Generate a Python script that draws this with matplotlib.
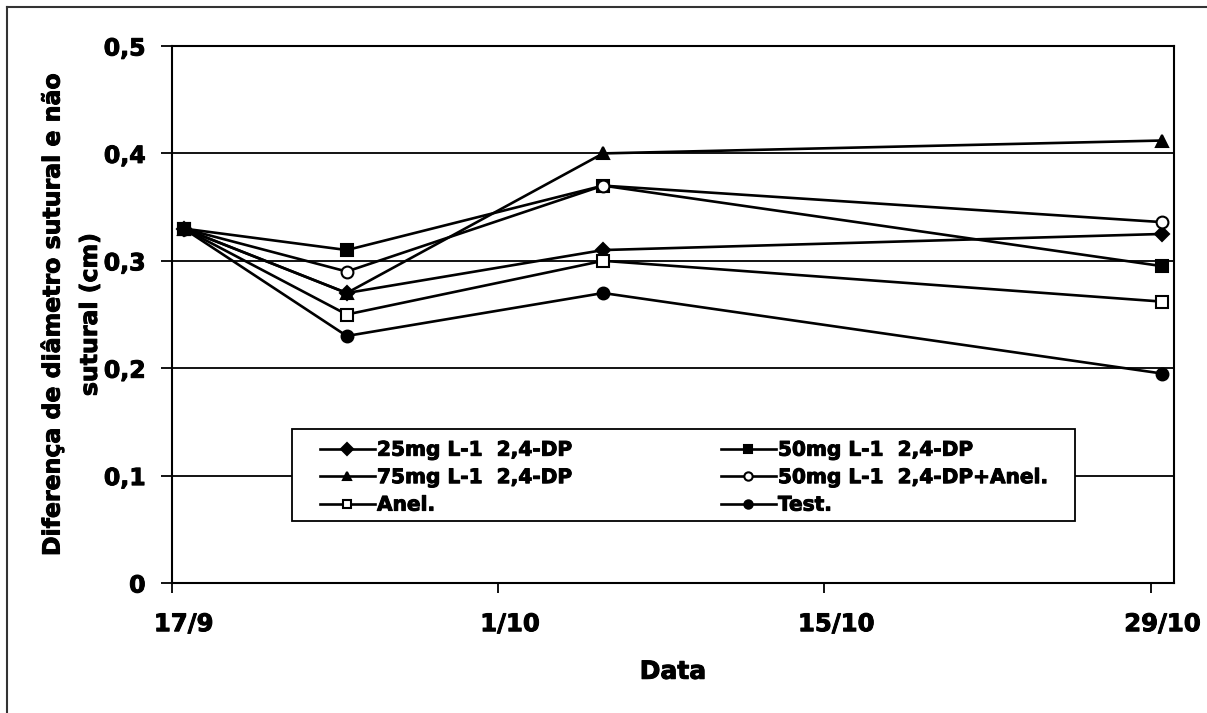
import matplotlib.pyplot as plt
import matplotlib.patheffects as pe
import numpy as np
from matplotlib.lines import Line2D
from matplotlib.patches import Rectangle

# dias contados a partir de 17/9 (pontos: 17/9, 24/9, 5/10, 29/10)
dias = [0, 7, 18, 42]
tick_dias = [0, 14, 28, 42]
tick_labels = ['17/9', '1/10', '15/10', '29/10']

dp25 = [0.33, 0.27, 0.31, 0.325]
dp50 = [0.33, 0.31, 0.37, 0.295]
dp75 = [0.33, 0.27, 0.40, 0.412]
dp50_anel = [0.33, 0.29, 0.37, 0.336]
anel = [0.33, 0.25, 0.30, 0.262]
test = [0.33, 0.23, 0.27, 0.195]

series = [
    (dp25, 'D', 'black', '25mg L-1  2,4-DP'),
    (dp75, '^', 'black', '75mg L-1  2,4-DP'),
    (anel, 's', 'white', 'Anel.'),
    (dp50, 's', 'black', '50mg L-1  2,4-DP'),
    (dp50_anel, 'o', 'white', '50mg L-1  2,4-DP+Anel.'),
    (test, 'o', 'black', 'Test.'),
]

plt.rcParams['font.family'] = ['DejaVu Sans']
plt.rcParams['font.weight'] = 'bold'

# texto um pouco mais "grosso", como no original digitalizado
engrossa = [pe.withStroke(linewidth=0.7, foreground='black')]

fig = plt.figure(figsize=(12.07, 7.13), dpi=100)
ax = fig.add_axes([172/1207, 1-583/713, (1174-172)/1207, (583-46)/713])

# pontos (e rótulos) no meio do dia, como no eixo de datas do Excel
x = np.array(dias) + 0.5
for vals, mk, fc, lab in series:
    ms = 8.5 if mk != 'D' else 7.5
    ax.plot(x, vals, color='black', lw=1.9, marker=mk, ms=ms, mfc=fc, mec='black',
            mew=1.5, label=lab, zorder=3)

ax.set_xlim(0, 43)
ax.set_ylim(0, 0.5)
ax.set_xticks(tick_dias)
ax.set_xticklabels([])
ax.set_xticks(np.array(tick_dias) + 0.5, minor=True)
ax.set_xticklabels(tick_labels, minor=True)
ax.set_yticks([0, 0.1, 0.2, 0.3, 0.4, 0.5])
ax.set_yticklabels(['0', '0,1', '0,2', '0,3', '0,4', '0,5'])
ax.yaxis.grid(True, color='black', lw=1.3, zorder=1)
ax.set_axisbelow(True)
ax.tick_params(axis='both', width=1.3, direction='out')
ax.tick_params(axis='y', labelsize=17, length=8, pad=11)
ax.tick_params(axis='x', which='major', length=7)
ax.tick_params(axis='x', which='minor', length=0, labelsize=17.5, pad=21)
for s in ax.spines.values():
    s.set_linewidth(1.5)
for t in ax.get_xticklabels(minor=True) + ax.get_yticklabels():
    t.set_path_effects(engrossa)

ax.set_xlabel('Data', fontsize=18, fontweight='bold', labelpad=17, path_effects=engrossa)
ax.set_ylabel('Diferença de diâmetro sutural e não\nsutural (cm)', fontsize=17,
              fontweight='bold', linespacing=1.7, path_effects=engrossa)
ax.yaxis.set_label_coords(-0.070, 0.5)

# caixa da legenda (branca, cobre a grade)
caixa = Rectangle((0.1198, 0.1155), 0.7814, 0.1713, transform=ax.transAxes,
                  facecolor='white', edgecolor='black', lw=1.3, zorder=2.5)
ax.add_patch(caixa)

leg = ax.legend(ncol=2, loc='upper left', bbox_to_anchor=(0.1477, 0.0, 0.7266, 0.265),
                mode='expand', frameon=False, fontsize=14.5, handlelength=2.73,
                handletextpad=0.1, borderpad=0, borderaxespad=0,
                labelspacing=0.42, columnspacing=1.0)
leg.set_zorder(5)
for h in leg.legend_handles:
    h.set_markersize(6)
for t in leg.get_texts():
    t.set_fontweight('bold')
    t.set_path_effects(engrossa)

# moldura externa
fig.add_artist(Line2D([7/1207, 1], [1-7/713, 1-7/713], transform=fig.transFigure, color='#333333', lw=1.5))
fig.add_artist(Line2D([7/1207, 7/1207], [0, 1-7/713], transform=fig.transFigure, color='#333333', lw=1.5))

fig.savefig('out.png', dpi=100)
